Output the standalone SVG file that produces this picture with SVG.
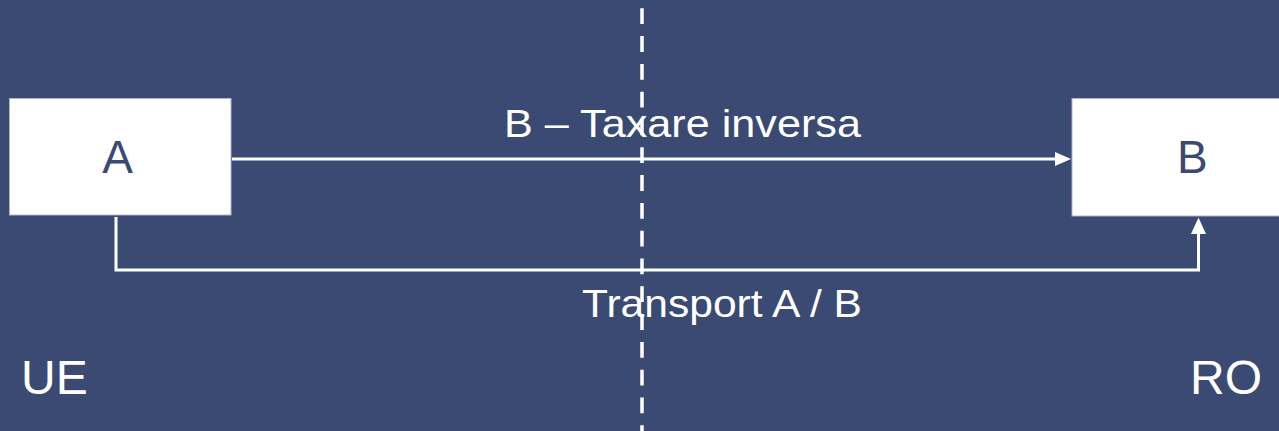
<svg xmlns="http://www.w3.org/2000/svg" width="1279" height="431" viewBox="0 0 1279 431">
<defs>
<style>
.box{fill:#ffffff;stroke:#aeb6cb;stroke-width:1}
.lbl{font-family:"Liberation Sans",Arial,sans-serif;fill:#ffffff}
.nlbl{font-family:"Liberation Sans",Arial,sans-serif;fill:#3b4a72;font-size:46px}
.conn{fill:none;stroke:#ffffff;stroke-width:3}
.head{fill:#ffffff}
</style>
</defs>
<rect x="0" y="0" width="1279" height="431" fill="#3b4a72"/>
<g id="node-A">
<rect class="box" x="9.5" y="98.5" width="221.5" height="116.5"/>
<text class="nlbl" x="117.5" y="173" text-anchor="middle">A</text>
</g>
<g id="node-B">
<rect class="box" x="1072" y="98.5" width="210" height="117.5"/>
<text class="nlbl" x="1177" y="173">B</text>
</g>
<g id="connectors">
<line class="conn" x1="232" y1="159" x2="1058" y2="159"/>
<polygon class="head" points="1071,159 1055,152 1055,166"/>
<polyline class="conn" points="116,217 116,270 1198.5,270 1198.5,231"/>
<polygon class="head" points="1198.5,217.5 1191,234 1206,234"/>
</g>
<g id="divider">
<line x1="642" y1="8.3" x2="642" y2="431" stroke="#ffffff" stroke-width="3.5" stroke-dasharray="15.8 12"/>
</g>
<g id="labels">
<text class="lbl" x="504" y="137" font-size="39" textLength="357" lengthAdjust="spacingAndGlyphs">B – Taxare inversa</text>
<text class="lbl" x="582" y="317" font-size="39.5" textLength="280" lengthAdjust="spacingAndGlyphs">Transport A / B</text>
<text class="lbl" x="21" y="393.5" font-size="48">UE</text>
<text class="lbl" x="1262" y="394" font-size="48" text-anchor="end">RO</text>
</g>
</svg>
